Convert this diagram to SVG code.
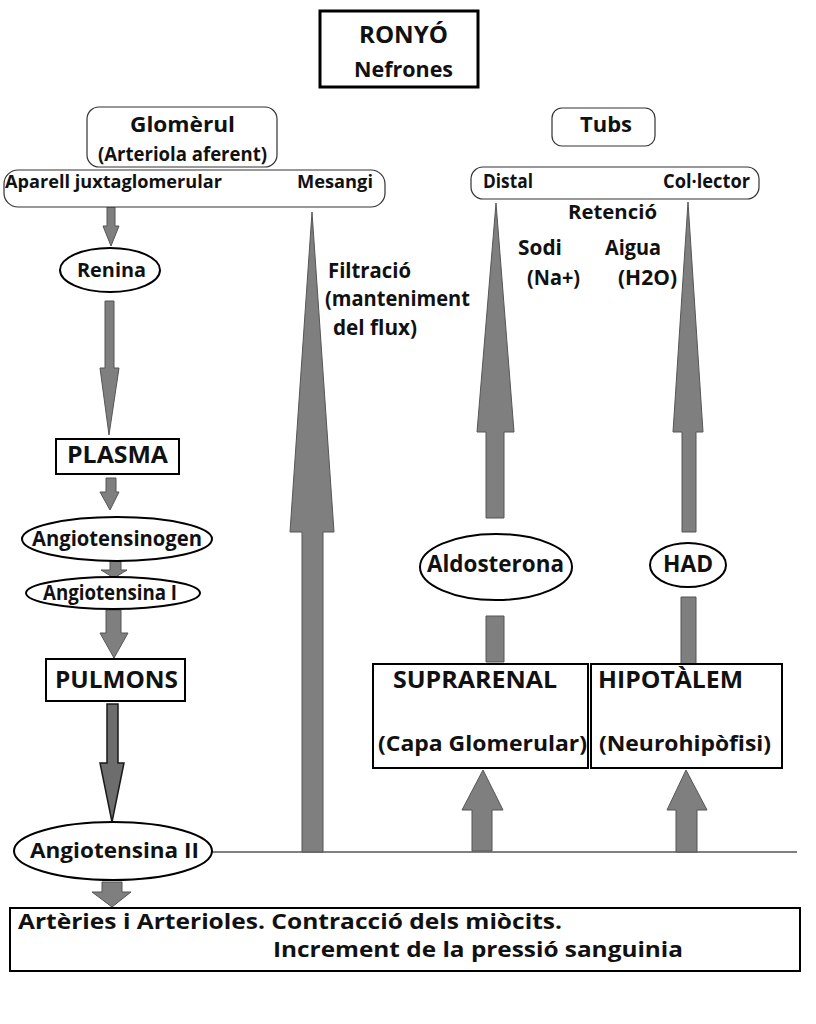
<svg xmlns="http://www.w3.org/2000/svg" width="816" height="1024" viewBox="0 0 816 1024">
<style>
text{font-family:"Open Sans","Liberation Sans",sans-serif;font-weight:bold;fill:#111;}
.box{fill:#fff;stroke:#000;stroke-width:2;}
.rbox{fill:#fff;stroke:#333;stroke-width:1.2;}
.ell{fill:#fff;stroke:#000;stroke-width:2;}
.arr{fill:#7f7f7f;stroke:#555;stroke-width:1;}
.arrd{fill:#6d6d6d;stroke:#1a1a1a;stroke-width:1.5;}
.line{stroke:#808080;stroke-width:2;fill:none;}
</style>
<rect width="816" height="1024" fill="#fff"/>

<g id="connectors">
  <line class="line" x1="212" y1="852" x2="797" y2="852"/>
  <polygon class="arr" points="107,207 115,207 115,226 119,226 111,246 103,226 107,226"/>
  <polygon class="arr" points="105,301 114,301 114,368 119,368 109,435 100,368 105,368"/>
  <polygon class="arr" points="106,478 116,478 116,492 119,492 110,510 100,492 106,492"/>
  <polygon class="arr" points="110,559 121,559 121,570 127,570 114,578 101,570 110,570"/>
  <polygon class="arr" points="106,610 121,610 121,633 128,633 114,658 100,633 106,633"/>
  <polygon class="arrd" points="107,704 118,704 118,763 124,763 112,822 100,763 107,763"/>
  <polygon class="arr" points="102,882 122,882 122,892 131,892 112,907 92,892 102,892"/>
  <polygon class="arr" points="312,212 334,532 323,532 323,852 302,852 302,532 290,532"/>
  <polygon class="arr" points="496,203 514,432 504,432 504,518 486,518 486,432 477,432"/>
  <polygon class="arr" points="486,616 504,616 504,662 486,662"/>
  <polygon class="arr" points="688,202 703,432 696,432 696,532 682,532 682,432 673,432"/>
  <polygon class="arr" points="681,597 696,597 696,664 681,664"/>
  <polygon class="arr" points="483,770 503,810 492,810 492,851 472,851 472,810 462,810"/>
  <polygon class="arr" points="686,770 707,810 697,810 697,852 676,852 676,810 667,810"/>
</g>

<g id="title">
  <rect x="320" y="11" width="158" height="76" fill="#fff" stroke="#000" stroke-width="3"/>
  <text x="359" y="43" font-size="23" textLength="89" lengthAdjust="spacingAndGlyphs">RONYÓ</text>
  <text x="354" y="77" font-size="22" textLength="99" lengthAdjust="spacingAndGlyphs">Nefrones</text>
</g>

<g id="glomerul">
  <rect class="rbox" x="87" y="107" width="190" height="60" rx="12"/>
  <text x="130" y="132" font-size="22" textLength="105" lengthAdjust="spacingAndGlyphs">Glomèrul</text>
  <text x="98" y="161" font-size="20" textLength="169" lengthAdjust="spacingAndGlyphs">(Arteriola aferent)</text>
</g>

<g id="aparell">
  <rect class="rbox" x="4" y="170" width="381" height="37" rx="14"/>
  <text x="5" y="188" font-size="18" textLength="217" lengthAdjust="spacingAndGlyphs">Aparell juxtaglomerular</text>
  <text x="297" y="188" font-size="18" textLength="76" lengthAdjust="spacingAndGlyphs">Mesangi</text>
</g>

<g id="renina">
  <ellipse class="ell" cx="110" cy="270" rx="50" ry="22"/>
  <text x="77" y="277" font-size="20" textLength="69" lengthAdjust="spacingAndGlyphs">Renina</text>
</g>

<g id="filtracio">
  <text x="328" y="278" font-size="21" textLength="83" lengthAdjust="spacingAndGlyphs">Filtració</text>
  <text x="325" y="306" font-size="21" textLength="145" lengthAdjust="spacingAndGlyphs">(manteniment</text>
  <text x="333" y="335" font-size="21" textLength="84" lengthAdjust="spacingAndGlyphs">del flux)</text>
</g>

<g id="plasma">
  <rect class="box" x="56" y="439" width="123" height="35"/>
  <text x="67" y="463" font-size="24" textLength="101" lengthAdjust="spacingAndGlyphs">PLASMA</text>
</g>

<g id="angiotensinogen">
  <ellipse class="ell" cx="117" cy="539" rx="95" ry="22"/>
  <text x="32" y="546" font-size="21" textLength="170" lengthAdjust="spacingAndGlyphs">Angiotensinogen</text>
</g>

<g id="angiotensina1">
  <ellipse class="ell" cx="113" cy="593" rx="87" ry="16"/>
  <text x="43" y="600" font-size="21" textLength="134" lengthAdjust="spacingAndGlyphs">Angiotensina I</text>
</g>

<g id="pulmons">
  <rect class="box" x="46" y="659" width="139" height="42"/>
  <text x="55" y="688" font-size="24" textLength="123" lengthAdjust="spacingAndGlyphs">PULMONS</text>
</g>

<g id="angiotensina2">
  <ellipse class="ell" cx="113" cy="851" rx="99" ry="29"/>
  <text x="30" y="858" font-size="21" textLength="169" lengthAdjust="spacingAndGlyphs">Angiotensina II</text>
</g>

<g id="arteries">
  <rect class="box" x="10" y="908" width="790" height="63"/>
  <text x="18" y="929" font-size="21" textLength="544" lengthAdjust="spacingAndGlyphs">Artèries i Arterioles. Contracció dels miòcits.</text>
  <text x="273" y="957" font-size="21" textLength="410" lengthAdjust="spacingAndGlyphs">Increment de la pressió sanguinia</text>
</g>

<g id="tubs">
  <rect class="rbox" x="552" y="108" width="103" height="38" rx="10"/>
  <text x="580" y="132" font-size="22" textLength="52" lengthAdjust="spacingAndGlyphs">Tubs</text>
</g>

<g id="distal-collector">
  <rect class="rbox" x="471" y="167" width="288" height="32" rx="12"/>
  <text x="483" y="188" font-size="19" textLength="50" lengthAdjust="spacingAndGlyphs">Distal</text>
  <text x="663" y="188" font-size="19" textLength="87" lengthAdjust="spacingAndGlyphs">Col·lector</text>
</g>

<g id="retencio">
  <text x="568" y="219" font-size="20" textLength="89" lengthAdjust="spacingAndGlyphs">Retenció</text>
  <text x="518" y="255" font-size="21" textLength="44" lengthAdjust="spacingAndGlyphs">Sodi</text>
  <text x="605" y="255" font-size="21" textLength="56" lengthAdjust="spacingAndGlyphs">Aigua</text>
  <text x="527" y="285" font-size="21" textLength="53" lengthAdjust="spacingAndGlyphs">(Na+)</text>
  <text x="618" y="285" font-size="21" textLength="59" lengthAdjust="spacingAndGlyphs">(H2O)</text>
</g>

<g id="aldosterona">
  <ellipse class="ell" cx="496" cy="567" rx="76" ry="33"/>
  <text x="427" y="572" font-size="23" textLength="137" lengthAdjust="spacingAndGlyphs">Aldosterona</text>
</g>

<g id="had">
  <ellipse class="ell" cx="688" cy="565" rx="38" ry="22"/>
  <text x="663" y="572" font-size="23" textLength="50" lengthAdjust="spacingAndGlyphs">HAD</text>
</g>

<g id="suprarenal">
  <rect class="box" x="373" y="664" width="215" height="104"/>
  <text x="393" y="688" font-size="23" textLength="164" lengthAdjust="spacingAndGlyphs">SUPRARENAL</text>
  <text x="378" y="751" font-size="22" textLength="209" lengthAdjust="spacingAndGlyphs">(Capa Glomerular)</text>
</g>

<g id="hipotalem">
  <rect class="box" x="591" y="664" width="191" height="104"/>
  <text x="598" y="688" font-size="23" textLength="145" lengthAdjust="spacingAndGlyphs">HIPOTÀLEM</text>
  <text x="599" y="751" font-size="22" textLength="172" lengthAdjust="spacingAndGlyphs">(Neurohipòfisi)</text>
</g>
</svg>
